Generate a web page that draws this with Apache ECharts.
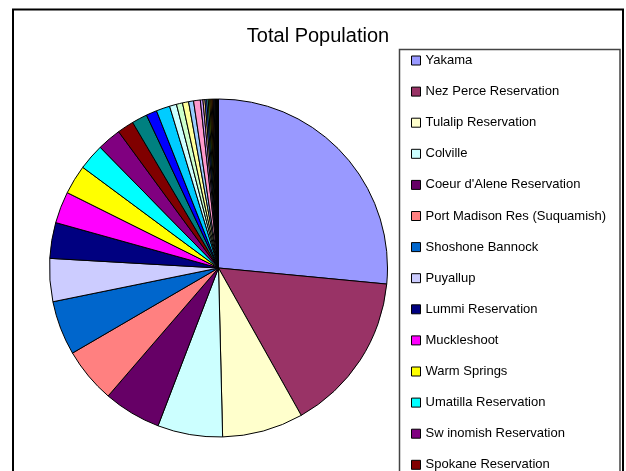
<!DOCTYPE html>
<html>
<head>
<meta charset="utf-8">
<script src="https://cdn.jsdelivr.net/npm/echarts@6/dist/echarts.min.js"></script>
<style>
html,body{margin:0;padding:0;background:#fff;}
#chart{width:626px;height:471px;}
</style>
</head>
<body>
<div id="chart"></div>
<script>
const titleText = 'Total Population';
const names = [
  'Yakama', 'Nez Perce Reservation', 'Tulalip Reservation', 'Colville',
  'Coeur d\'Alene Reservation', 'Port Madison Res (Suquamish)', 'Shoshone Bannock',
  'Puyallup', 'Lummi Reservation', 'Muckleshoot', 'Warm Springs',
  'Umatilla Reservation', 'Sw inomish Reservation', 'Spokane Reservation',
  'Makah Reservation', 'Quinault Reservation', 'Nisqually Reservation',
  'Chehalis Reservation', 'Skokomish Reservation', 'Kalispel Reservation',
  'Port Gamble Reservation', 'Squaxin Island', 'Lower Elwha', 'Upper Skagit',
  'Nooksack', 'Quileute', 'Shoalwater Bay', 'Hoh', 'Sauk-Suiattle',
  'Stillaguamish', 'Jamestown S\'Klallam', 'Kootenai', 'Burns Paiute',
  'Siletz', 'Grand Ronde', 'Coos', 'Coquille', 'Klamath', 'Cow Creek', 'Cowlitz'
];
const values = [
  31800, 18400, 9300, 7450,
  6600, 6330, 6230,
  4930, 4100, 3630, 3360,
  3000, 2730, 1900,
  1770, 1230, 1570,
  800, 700, 700,
  570, 770, 300, 230,
  200, 170, 170, 130, 130,
  115, 100, 100, 83,
  67, 67, 50, 50, 33, 33, 33
];
const colors = [
  '#9999FF', '#993366', '#FFFFCC', '#CCFFFF', '#660066', '#FF8080', '#0066CC', '#CCCCFF',
  '#000080', '#FF00FF', '#FFFF00', '#00FFFF', '#800080', '#800000', '#008080', '#0000FF',
  '#00CCFF', '#CCFFFF', '#CCFFCC', '#FFFF99', '#99CCFF', '#FF99CC', '#CC99FF', '#FFCC99',
  '#3366FF', '#33CCCC', '#99CC00', '#FFCC00', '#FF9900', '#FF6600', '#666699', '#969696',
  '#003366', '#339966', '#003300', '#333300', '#993300', '#993366', '#333399', '#333333'
];

const chart = echarts.init(document.getElementById('chart'), null, {renderer: 'canvas'});
const font = '"Liberation Sans", Arial, sans-serif';
chart.setOption({
  backgroundColor: '#ffffff',
  animation: false,
  color: colors,
  title: {
    text: titleText,
    left: 318, top: 26, textAlign: 'center', padding: 0,
    textStyle: {fontFamily: font, fontSize: 20, fontWeight: 'normal', color: '#000'}
  },
  graphic: [
    {type: 'rect', shape: {x: 13, y: 9.5, width: 610, height: 520},
     style: {fill: 'none', stroke: '#000', lineWidth: 2}, silent: true, z: 0},
    {type: 'rect', shape: {x: 399.5, y: 49.5, width: 220.5, height: 500},
     style: {fill: '#fff', stroke: '#444', lineWidth: 1.5}, silent: true, z: 0}
  ],
  legend: {
    orient: 'vertical',
    left: 411, top: 54, height: 2000, padding: 0,
    itemWidth: 9, itemHeight: 9, itemGap: 18.1,
    icon: 'rect',
    data: names,
    itemStyle: {borderColor: '#000', borderWidth: 1},
    textStyle: {fontFamily: font, fontSize: 13, lineHeight: 13, color: '#000'},
    z: 5
  },
  series: [{
    type: 'pie',
    center: [218.5, 268],
    radius: [0, 169],
    startAngle: 90,
    clockwise: true,
    avoidLabelOverlap: false,
    label: {show: false},
    labelLine: {show: false},
    emphasis: {disabled: true},
    itemStyle: {borderColor: '#000', borderWidth: 1},
    data: names.map((n, i) => ({name: n, value: values[i]}))
  }]
});
</script>
</body>
</html>
